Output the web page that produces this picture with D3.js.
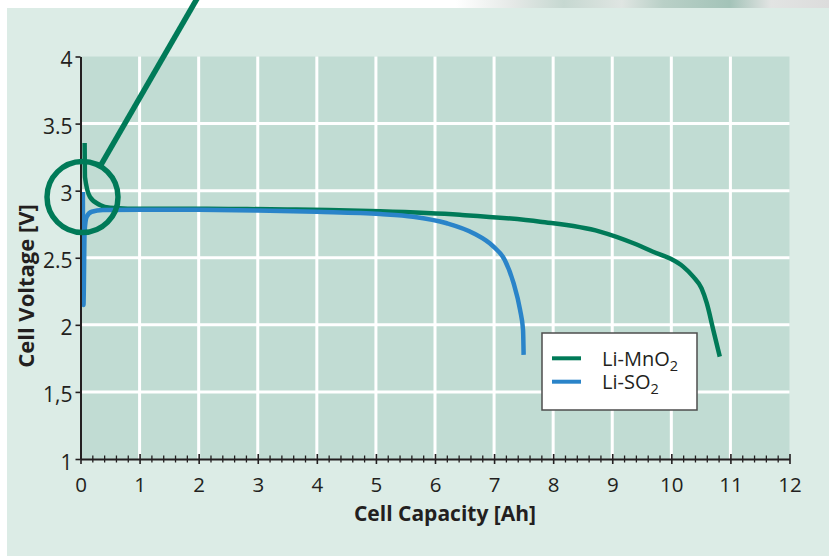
<!DOCTYPE html>
<html>
<head>
<meta charset="utf-8">
<script src="https://cdn.jsdelivr.net/npm/d3@7"></script>
<style>
  body { margin: 0; background: #fff; }
  svg { display: block; font-family: "Open Sans", "Noto Sans", sans-serif; }
</style>
</head>
<body>
<div id="chart"></div>
<script>
// Li-MnO2 discharge curve (capacity Ah / voltage V)
const mnCap = [0.07, 0.076, 0.161, 0.33, 0.5, 0.8, 1.5, 2.5, 3.5, 4.2, 5.07, 6.42, 7.78, 8.79, 9.36, 9.69, 9.97, 10.2, 10.37, 10.51, 10.6, 10.71, 10.82];
const mnVolt = [3.355, 3.1, 2.953, 2.893, 2.872, 2.866, 2.866, 2.864, 2.86, 2.856, 2.846, 2.82, 2.769, 2.695, 2.608, 2.545, 2.496, 2.434, 2.359, 2.273, 2.161, 1.962, 1.763];

// Li-SO2 discharge curve
const soCap = [0.04, 0.05, 0.07, 0.105, 0.19, 0.38, 1, 2, 3, 4, 5.07, 5.63, 6.2, 6.65, 6.99, 7.18, 7.33, 7.44, 7.49, 7.5];
const soVolt = [2.99, 2.148, 2.7, 2.806, 2.843, 2.855, 2.858, 2.857, 2.852, 2.842, 2.826, 2.806, 2.757, 2.683, 2.583, 2.484, 2.31, 2.111, 1.962, 1.776];

const xTicks = d3.range(0, 13);
const xMinorTicks = d3.range(0, 60).map(i => i / 5).filter(v => v % 1 !== 0);
const yTicks = [1, 1.5, 2, 2.5, 3, 3.5, 4];
const yTickLabels = ["1", "1,5", "2", "2.5", "3", "3.5", "4"];
const seriesNames = ["Li-MnO", "Li-SO"];
const seriesColors = ["#007a58", "#2a84c9"];

// Base variables
const w = 829;
const h = 556;

const xScale = d3.scaleLinear().domain([0, 12]).range([80.5, 789.5]);
const yScale = d3.scaleLinear().domain([1, 4]).range([459, 56.5]);

const svg = d3
  .select("#chart")
  .append("svg")
  .attr("width", w)
  .attr("height", h);

// top strip with blurred photo edge
const defs = svg.append("defs");
const grad = defs.append("linearGradient").attr("id", "topband");
[
  [0, "#ffffff"], [0.55, "#ffffff"], [0.62, "#e4e8e6"], [0.68, "#c6d8d1"],
  [0.75, "#dfe5e2"], [0.8, "#b9d0c7"], [0.88, "#a3c3b8"], [0.93, "#e2e4e3"], [1, "#dcdcdc"]
].forEach(s => grad.append("stop").attr("offset", s[0]).attr("stop-color", s[1]));

svg.append("rect").attr("x", 0).attr("y", 0).attr("width", w).attr("height", 8)
  .attr("fill", "url(#topband)");

// panel background
svg.append("rect").attr("x", 7).attr("y", 8).attr("width", w - 7).attr("height", h - 8)
  .attr("fill", "#dcece6");

// plot background
svg.append("rect")
  .attr("x", xScale(0)).attr("y", yScale(4))
  .attr("width", xScale(12) - xScale(0)).attr("height", yScale(1) - yScale(4))
  .attr("fill", "#c1dcd3");

// grid
svg.append("g").selectAll("line")
  .data(xTicks.filter(d => d > 0 && d < 12))
  .enter().append("line")
  .attr("x1", d => xScale(d)).attr("x2", d => xScale(d))
  .attr("y1", yScale(1)).attr("y2", yScale(4))
  .attr("stroke", "#fff").attr("stroke-width", 3);

svg.append("g").selectAll("line")
  .data(yTicks.filter(d => d > 1 && d < 4))
  .enter().append("line")
  .attr("x1", xScale(0)).attr("x2", xScale(12))
  .attr("y1", d => yScale(d)).attr("y2", d => yScale(d))
  .attr("stroke", "#fff").attr("stroke-width", 3);

// curves
const line = d3.line()
  .x(d => xScale(d[0]))
  .y(d => yScale(d[1]))
  .curve(d3.curveMonotoneX);

const mnData = mnCap.map((c, i) => [c, mnVolt[i]]);
const soData = soCap.map((c, i) => [c, soVolt[i]]);

svg.append("path").datum(mnData)
  .attr("d", line).attr("fill", "none")
  .attr("stroke", seriesColors[0]).attr("stroke-width", 4.5)
  .attr("stroke-linejoin", "round");

svg.append("path").datum(soData)
  .attr("d", line).attr("fill", "none")
  .attr("stroke", seriesColors[1]).attr("stroke-width", 4.5)
  .attr("stroke-linejoin", "round");

// x-axis (major)
const xAxis = d3.axisBottom(xScale).tickValues(xTicks).tickSizeOuter(0).tickFormat(d3.format("d"));
const gx = svg.append("g")
  .attr("id", "x-axis")
  .attr("transform", `translate(0, ${yScale(1)})`)
  .call(xAxis);
gx.select(".domain").attr("stroke", "#231f20").attr("stroke-width", 2);
gx.selectAll(".tick line").attr("y1", -5).attr("y2", 5).attr("stroke", "#231f20").attr("stroke-width", 1.6);
gx.selectAll(".tick text")
  .attr("y", 33).attr("dy", null)
  .attr("fill", "#231f20").style("font-size", "20.5px").style("font-family", "'Open Sans', sans-serif");

// x-axis (minor)
const gxm = svg.append("g")
  .attr("transform", `translate(0, ${yScale(1)})`)
  .call(d3.axisBottom(xScale).tickValues(xMinorTicks).tickSizeOuter(0).tickFormat(""));
gxm.select(".domain").remove();
gxm.selectAll(".tick line").attr("y1", -3.5).attr("y2", 3.5).attr("stroke", "#231f20").attr("stroke-width", 1.3);

// y-axis
const yAxis = d3.axisLeft(yScale).tickValues(yTicks).tickSizeInner(5).tickSizeOuter(0)
  .tickFormat((d, i) => yTickLabels[i]);
const gy = svg.append("g")
  .attr("id", "y-axis")
  .attr("transform", `translate(${xScale(0)}, 0)`)
  .call(yAxis);
gy.select(".domain").attr("stroke", "#231f20").attr("stroke-width", 2);
gy.selectAll(".tick line").attr("stroke", "#231f20").attr("stroke-width", 1.6);
gy.selectAll(".tick text")
  .attr("x", -8).attr("y", 10).attr("dy", null)
  .attr("fill", "#231f20").style("font-size", "21px").style("font-family", "'Open Sans', sans-serif");

// axis titles
svg.append("text")
  .attr("x", 445).attr("y", 521)
  .attr("text-anchor", "middle")
  .attr("fill", "#231f20")
  .style("font-size", "21px").style("font-weight", "bold")
  .text("Cell Capacity [Ah]");

svg.append("text")
  .attr("transform", "translate(34, 286) rotate(-90)")
  .attr("text-anchor", "middle")
  .attr("fill", "#231f20")
  .style("font-size", "22px").style("font-weight", "bold")
  .text("Cell Voltage [V]");

// callout circle and pointer
const cx = xScale(0.034);
const cy = yScale(2.953);
const r = 35.5;
const ang = -Math.PI / 3;
const sx = cx + r * Math.cos(ang);
const sy = cy + r * Math.sin(ang);
svg.append("circle")
  .attr("cx", cx).attr("cy", cy).attr("r", r)
  .attr("fill", "none").attr("stroke", seriesColors[0]).attr("stroke-width", 5.5);
svg.append("line")
  .attr("x1", sx).attr("y1", sy)
  .attr("x2", sx + (sy + 2) / Math.tan(Math.PI / 3)).attr("y2", -2)
  .attr("stroke", seriesColors[0]).attr("stroke-width", 5.5);

// legend
const legend = svg.append("g").attr("transform", "translate(542, 333)");
legend.append("rect")
  .attr("width", 155).attr("height", 77)
  .attr("fill", "#fff").attr("stroke", "#4d4d4d").attr("stroke-width", 1.5);

seriesNames.forEach((name, i) => {
  const ly = 25.3 + i * 23.4;
  legend.append("line")
    .attr("x1", 10).attr("x2", 39)
    .attr("y1", ly).attr("y2", ly)
    .attr("stroke", seriesColors[i]).attr("stroke-width", 4);
  const t = legend.append("text")
    .attr("x", 60).attr("y", ly + 7.5)
    .attr("fill", "#231f20")
    .style("font-size", "20px");
  t.append("tspan").text(name);
  t.append("tspan").attr("dy", 5).style("font-size", "14.5px").text("2");
});
</script>
</body>
</html>
